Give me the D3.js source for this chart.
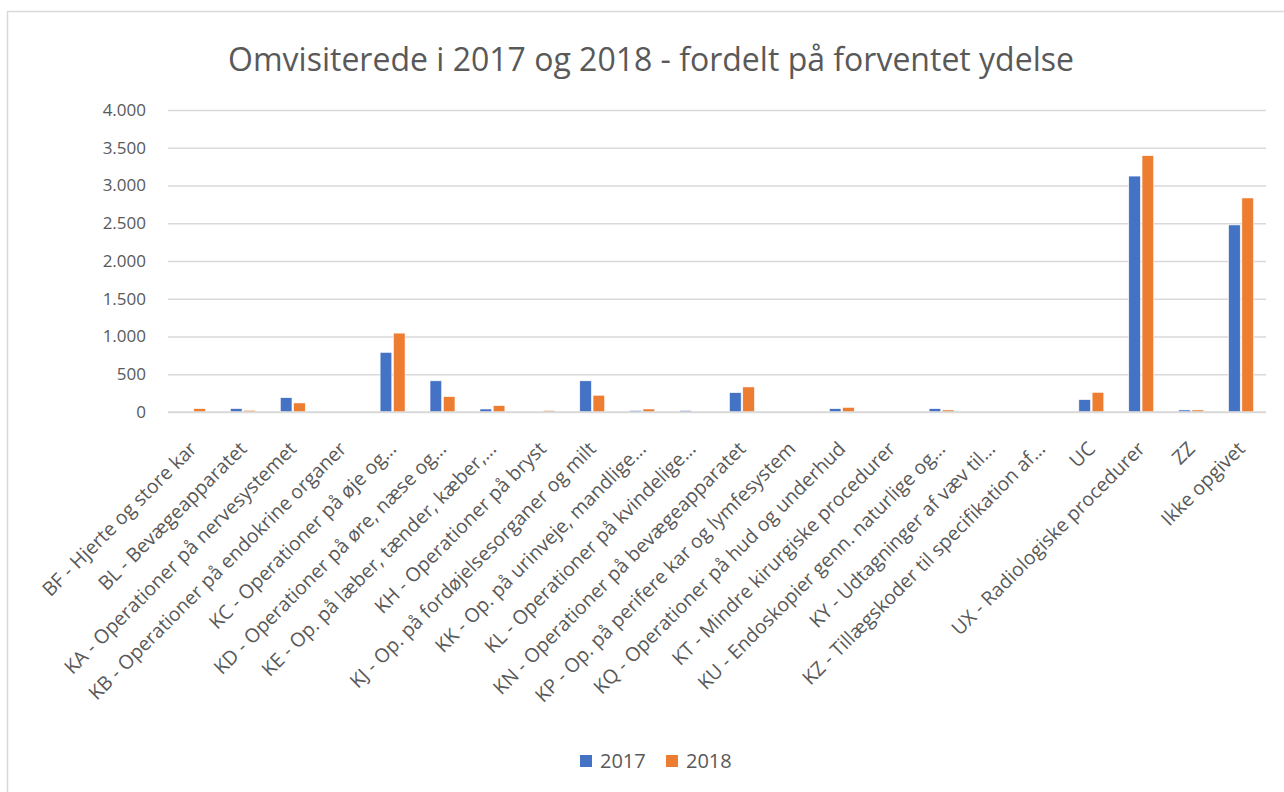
<!DOCTYPE html>
<html>
<head>
<meta charset="utf-8">
<script src="https://cdn.jsdelivr.net/npm/d3@7"></script>
<style>
  html, body { margin: 0; padding: 0; background: #fff; }
  svg { display: block; }
  text { font-family: "Open Sans", "Noto Sans", sans-serif; fill: #595959; }
</style>
</head>
<body>
<svg id="chart" width="1284" height="792"></svg>
<script>
const categories = [
  "BF - Hjerte og store kar",
  "BL - Bevægeapparatet",
  "KA - Operationer på nervesystemet",
  "KB - Operationer på endokrine organer",
  "KC - Operationer på øje og…",
  "KD - Operationer på øre, næse og…",
  "KE - Op. på læber, tænder, kæber,…",
  "KH - Operationer på bryst",
  "KJ - Op. på fordøjelsesorganer og milt",
  "KK - Op. på urinveje, mandlige…",
  "KL - Operationer på kvindelige…",
  "KN - Operationer på bevægeapparatet",
  "KP - Op. på perifere kar og lymfesystem",
  "KQ - Operationer på hud og underhud",
  "KT - Mindre kirurgiske procedurer",
  "KU - Endoskopier genn. naturlige og…",
  "KY - Udtagninger af væv til…",
  "KZ - Tillægskoder til specifikation af…",
  "UC",
  "UX - Radiologiske procedurer",
  "ZZ",
  "Ikke opgivet"
];
const values2017 = [0, 45, 190, 0, 790, 413, 40, 0, 413, 20, 20, 257, 0, 44, 0, 44, 0, 0, 164, 3125, 27, 2478];
const values2018 = [45, 23, 120, 0, 1045, 204, 85, 20, 222, 40, 0, 332, 0, 62, 0, 27, 0, 0, 261, 3395, 27, 2835];
const seriesNames = ["2017", "2018"];
const seriesColors = ["#4472C4", "#ED7D31"];
const yTicks = [0, 500, 1000, 1500, 2000, 2500, 3000, 3500, 4000];
const titleText = "Omvisiterede i 2017 og 2018 - fordelt på forventet ydelse";

const svg = d3.select("#chart");

// chart border
svg.append("rect")
  .attr("x", 7.5).attr("y", 11.5)
  .attr("width", 1300).attr("height", 800)
  .attr("fill", "#fff").attr("stroke", "#d9d9d9").attr("stroke-width", 1.5);

const plot = { left: 168, right: 1266, top: 110, bottom: 412 };

const x0 = d3.scaleBand().domain(categories).range([plot.left, plot.right]).paddingInner(0).paddingOuter(0);
const groupW = x0.bandwidth() * 0.5;
const x1 = d3.scaleBand().domain(seriesNames).range([0, groupW]).paddingInner(0.12);
const y = d3.scaleLinear().domain([0, 4000]).range([plot.bottom, plot.top]);

const fmt = v => d3.format(",")(v).replace(/,/g, ".");

// gridlines
const yAxis = d3.axisLeft(y).tickValues(yTicks).tickSize(-(plot.right - plot.left)).tickFormat(fmt).tickPadding(22);
const gy = svg.append("g").attr("transform", `translate(${plot.left},0)`).call(yAxis);
gy.select(".domain").remove();
gy.selectAll(".tick line").attr("stroke", "#d9d9d9").attr("stroke-width", 1.5);
gy.selectAll(".tick text")
  .attr("fill", "#595959")
  .style("font-family", '"Open Sans", "Noto Sans", sans-serif')
  .style("font-size", "17px");

// bars
const rows = categories.map((c, i) => ({ c, vals: [values2017[i], values2018[i]] }));
const groups = svg.append("g").selectAll("g").data(rows).join("g")
  .attr("transform", d => `translate(${x0(d.c) + (x0.bandwidth() - groupW) / 2},0)`);
groups.selectAll("rect")
  .data(d => d.vals.map((v, k) => ({ v, k })))
  .join("rect")
  .attr("x", d => x1(seriesNames[d.k]))
  .attr("width", x1.bandwidth())
  .attr("y", d => y(d.v))
  .attr("height", d => y(0) - y(d.v))
  .attr("fill", d => seriesColors[d.k])
  .attr("stroke", "#fff").attr("stroke-width", 0.6);

// baseline on top
svg.append("line")
  .attr("x1", plot.left).attr("x2", plot.right)
  .attr("y1", y(0)).attr("y2", y(0))
  .attr("stroke", "#d9d9d9").attr("stroke-width", 1.5);

// x labels (rotated)
const xa = d3.axisBottom(x0).tickSize(0).tickFormat(d => d);
const gx = svg.append("g").attr("transform", `translate(0,${plot.bottom})`).call(xa);
gx.select(".domain").remove();
gx.selectAll(".tick text")
  .attr("text-anchor", "end")
  .attr("fill", "#595959")
  .attr("dy", null).attr("y", null)
  .style("font-family", '"Open Sans", "Noto Sans", sans-serif')
  .style("font-size", "19.5px")
  .attr("transform", "translate(5,38) rotate(-45)");

// title
svg.append("text")
  .attr("x", 651).attr("y", 71)
  .attr("text-anchor", "middle")
  .style("font-size", "32px")
  .text(titleText);

// legend
const leg = svg.append("g");
const legX = [580, 666];
seriesNames.forEach((s, k) => {
  leg.append("rect").attr("x", legX[k]).attr("y", 755).attr("width", 12).attr("height", 12).attr("fill", seriesColors[k]);
  leg.append("text").attr("x", legX[k] + 20).attr("y", 768).style("font-size", "20px").text(s);
});
</script>
</body>
</html>
